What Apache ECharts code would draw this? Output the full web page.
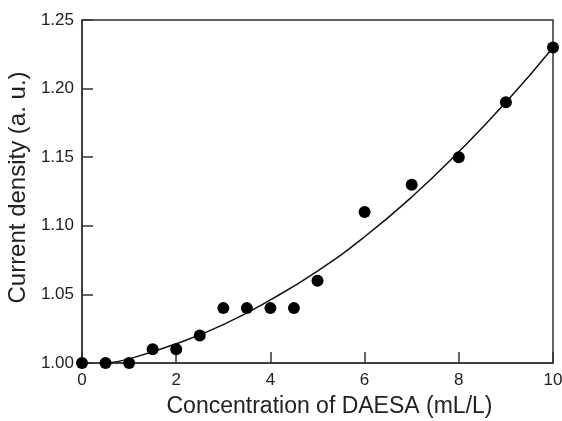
<!DOCTYPE html>
<html><head><meta charset="utf-8">
<script src="https://cdn.jsdelivr.net/npm/echarts@6/dist/echarts.min.js"></script>
<style>html,body{margin:0;padding:0;background:#fff}#c{width:562px;height:421px}</style>
</head><body><div id="c"></div>
<script>
const conc = [0, 0.5, 1, 1.5, 2, 2.5, 3, 3.5, 4, 4.5, 5, 6, 7, 8, 9, 10];
const density = [1.00, 1.00, 1.00, 1.01, 1.01, 1.02, 1.04, 1.04, 1.04, 1.04, 1.06, 1.11, 1.13, 1.15, 1.19, 1.23];
const fitX = [0.55, 1, 2, 3, 4, 5, 6, 7, 8, 9, 10];
const fitY = [1.000, 1.003, 1.014, 1.028, 1.046, 1.067, 1.092, 1.121, 1.154, 1.190, 1.230];
const xTicks = [0, 2, 4, 6, 8, 10];
const yTicks = [1.00, 1.05, 1.10, 1.15, 1.20, 1.25];

const chart = echarts.init(document.getElementById('c'), null, {renderer: 'canvas'});
const font = 'Liberation Sans, Arial, sans-serif';
chart.setOption({
  animation: false,
  backgroundColor: '#fff',
  grid: {left: 82, right: 9, top: 20, bottom: 58, containLabel: false, outerBoundsMode: 'none',
         show: true, borderColor: '#333', borderWidth: 1.5, backgroundColor: 'transparent'},
  xAxis: {
    type: 'value', min: xTicks[0], max: xTicks[xTicks.length - 1], interval: 2,
    name: 'Concentration of DAESA (mL/L)', nameLocation: 'middle', nameGap: 32,
    nameTextStyle: {fontFamily: font, fontSize: 23, color: '#222', padding: [0, 0, 0, 24]},
    axisLine: {show: true, lineStyle: {color: '#333', width: 1.5}},
    axisTick: {show: true, inside: true, length: 11, lineStyle: {color: '#333', width: 1.5}},
    axisLabel: {fontFamily: font, fontSize: 17, color: '#222', margin: 9},
    splitLine: {show: false}
  },
  yAxis: {
    type: 'value', min: yTicks[0], max: yTicks[yTicks.length - 1], interval: 0.05,
    name: 'Current density (a. u.)', nameLocation: 'middle', nameGap: 45,
    nameTextStyle: {fontFamily: font, fontSize: 24, color: '#222', padding: [0, 0, 0, 8]},
    axisLine: {show: true, lineStyle: {color: '#333', width: 1.5}},
    axisTick: {show: true, inside: true, length: 11, lineStyle: {color: '#333', width: 1.5}},
    axisLabel: {fontFamily: font, fontSize: 17, color: '#222', margin: 8, formatter: v => v.toFixed(2)},
    splitLine: {show: false}
  },
  series: [
    {
      type: 'line', data: fitX.map((x, i) => [x, fitY[i]]), smooth: true, showSymbol: false,
      lineStyle: {color: '#111', width: 1.5}, z: 2
    },
    {
      type: 'scatter', data: conc.map((x, i) => [x, density[i]]), symbolSize: 12,
      itemStyle: {color: '#000', opacity: 1}, z: 3
    }
  ]
});
</script></body></html>
